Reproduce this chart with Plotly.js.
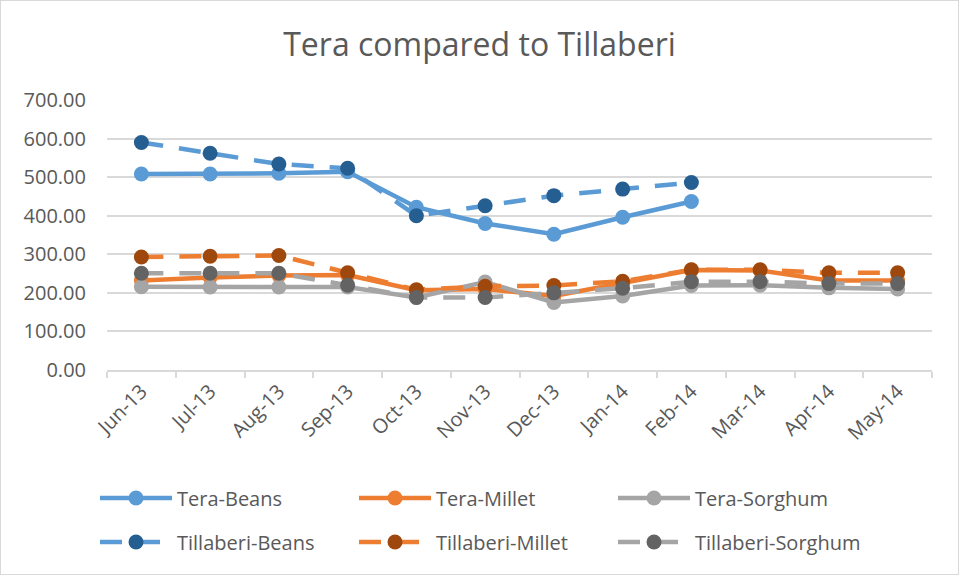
<!DOCTYPE html>
<html>
<head>
<meta charset="utf-8">
<script src="https://cdn.plot.ly/plotly-3.0.1.min.js"></script>
<style>
  html, body { margin: 0; padding: 0; background: #fff; }
  #wrap { position: relative; width: 959px; height: 575px; }
  #chart { width: 959px; height: 575px; }
  #frame { position: absolute; left: 0; top: 0; width: 957px; height: 573px; border: 1px solid #D9D9D9; pointer-events: none; }
</style>
</head>
<body>
<div id="wrap"><div id="chart"></div><div id="frame"></div></div>
<script>
const months = ["Jun-13","Jul-13","Aug-13","Sep-13","Oct-13","Nov-13","Dec-13","Jan-14","Feb-14","Mar-14","Apr-14","May-14"];
const teraBeans = [508, 508, 510, 514, 422, 380, 352, 396, 437, null, null, null];
const teraMillet = [232, 240, 245, 246, 207, 210, 192, 225, 259, 258, 232, 232];
const teraSorghum = [216, 215, 215, 215, 188, 228, 175, 192, 219, 220, 213, 210];
const tillBeans = [590, 562, 534, 523, 400, 426, 452, 469, 486, null, null, null];
const tillMillet = [293, 295, 297, 252, 208, 217, 219, 230, 260, 260, 252, 252];
const tillSorghum = [251, 251, 251, 220, 188, 188, 200, 212, 229, 229, 224, 224];
const yTicks = [0, 100, 200, 300, 400, 500, 600, 700];

const txt = "#595959";
const fontFam = "'Open Sans', sans-serif";

function tr(name, y, lineColor, markerColor, dash, legend) {
  return {
    type: "scatter", mode: "lines+markers", name: name,
    x: months, y: y, connectgaps: false,
    line: { color: lineColor, width: 4.5, dash: dash },
    marker: { color: markerColor, size: 15, line: { width: 0 } },
    legend: legend, hoverinfo: "x+y+name"
  };
}

const data = [
  tr("Tera-Beans", teraBeans, "#5B9BD5", "#5B9BD5", "solid", "legend"),
  tr("Tera-Millet", teraMillet, "#ED7D31", "#ED7D31", "solid", "legend"),
  tr("Tera-Sorghum", teraSorghum, "#A5A5A5", "#A5A5A5", "solid", "legend"),
  tr("Tillaberi-Beans", tillBeans, "#5B9BD5", "#255E91", "22px,16px", "legend2"),
  tr("Tillaberi-Millet", tillMillet, "#ED7D31", "#9E480E", "22px,16px", "legend2"),
  tr("Tillaberi-Sorghum", tillSorghum, "#A5A5A5", "#636363", "22px,16px", "legend2")
];

const legendCommon = {
  orientation: "h", xref: "container", yref: "container",
  xanchor: "left", yanchor: "middle",
  entrywidth: 172, entrywidthmode: "pixels", itemwidth: 72,
  font: { family: fontFam, size: 20, color: txt },
  bgcolor: "rgba(0,0,0,0)", borderwidth: 0, traceorder: "normal"
};

const layout = {
  width: 959, height: 575,
  paper_bgcolor: "#ffffff", plot_bgcolor: "#ffffff",
  margin: { l: 107, r: 27, t: 100, b: 205, pad: 0 },
  font: { family: fontFam, color: txt },
  title: { text: "Tera compared to Tillaberi", x: 0.5, xanchor: "center", xref: "container",
           y: 1 - 45 / 575, yref: "container", yanchor: "middle",
           font: { family: fontFam, size: 32, color: txt } },
  xaxis: {
    type: "category", categoryorder: "array", categoryarray: months,
    range: [-0.5, 11.5], tickangle: -45,
    tickfont: { family: fontFam, size: 20, color: txt },
    showgrid: false, showline: true, linecolor: "#D9D9D9", linewidth: 1.5,
    ticks: "outside", tickson: "boundaries", ticklen: 6, tickcolor: "#D9D9D9", tickwidth: 1.5,
    zeroline: false, fixedrange: true
  },
  yaxis: {
    range: [0, 700], tickmode: "array", tickvals: yTicks, tickformat: ".2f",
    tickfont: { family: fontFam, size: 20, color: txt },
    showgrid: true, gridcolor: "#D9D9D9", gridwidth: 1.5,
    showline: false, zeroline: false, ticks: "", ticklabelstandoff: 20,
    fixedrange: true
  },
  legend: Object.assign({}, legendCommon, { x: 95 / 959, y: 1 - 498 / 575 }),
  legend2: Object.assign({}, legendCommon, { x: 95 / 959, y: 1 - 542 / 575 }),
  showlegend: true
};

Plotly.newPlot("chart", data, layout, { displayModeBar: false, responsive: false });
</script>
</body>
</html>
